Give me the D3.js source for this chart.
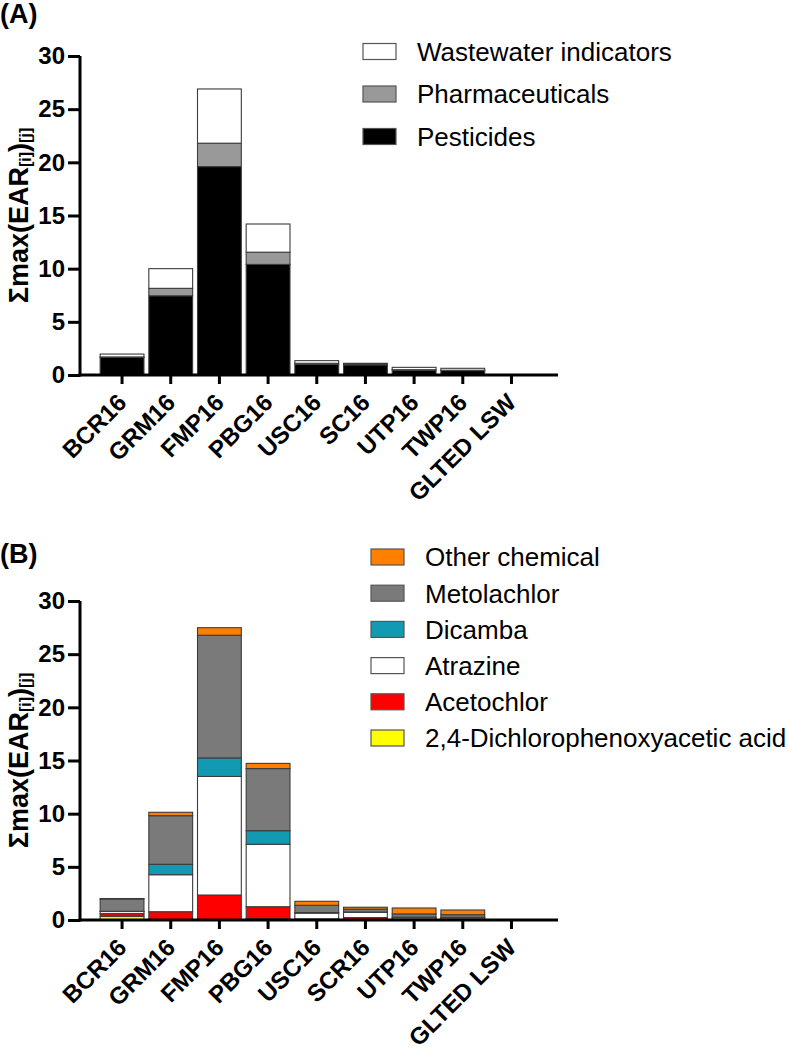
<!DOCTYPE html>
<html>
<head>
<meta charset="utf-8">
<script src="https://cdn.jsdelivr.net/npm/d3@7"></script>
<style>
  html, body { margin: 0; padding: 0; background: #fff; }
  svg { display: block; }
  text { font-family: "Liberation Sans", Arial, Helvetica, sans-serif; fill: #000; }
</style>
</head>
<body>
<svg id="chart" width="790" height="1050"></svg>
<script>
// ---------------- DATA ----------------
const sitesA = ["BCR16", "GRM16", "FMP16", "PBG16", "USC16", "SC16", "UTP16", "TWP16", "GLTED LSW"];
const sitesB = ["BCR16", "GRM16", "FMP16", "PBG16", "USC16", "SCR16", "UTP16", "TWP16", "GLTED LSW"];
const yTicks = [0, 5, 10, 15, 20, 25, 30];

// Panel A (stacked bottom -> top)
const pesticides      = [1.65, 7.45, 19.6, 10.4, 1.0, 0.95, 0.45, 0.42, 0];
const pharmaceuticals = [0.05, 0.70, 2.20, 1.15, 0.10, 0.10, 0.05, 0.03, 0];
const wastewater      = [0.27, 1.85, 5.10, 2.65, 0.25, 0.05, 0.22, 0.18, 0];
const seriesA = ["Pesticides", "Pharmaceuticals", "Wastewater indicators"];
const colorsA = ["#000000", "#999999", "#ffffff"];

// Panel B (stacked bottom -> top)
const d24         = [0.35, 0.00, 0.00, 0.12, 0.05, 0.03, 0.05, 0.05, 0];
const acetochlor  = [0.25, 0.78, 2.35, 1.13, 0.05, 0.20, 0.05, 0.05, 0];
const atrazine    = [0.20, 3.48, 11.15, 5.87, 0.55, 0.50, 0.15, 0.13, 0];
const dicamba     = [0.02, 0.98, 1.74, 1.28, 0.05, 0.02, 0.02, 0.02, 0];
const metolachlor = [1.15, 4.57, 11.54, 5.84, 0.68, 0.27, 0.30, 0.25, 0];
const otherChem   = [0.05, 0.32, 0.71, 0.49, 0.38, 0.18, 0.56, 0.44, 0];
const seriesB = ["2,4-Dichlorophenoxyacetic acid", "Acetochlor", "Atrazine", "Dicamba", "Metolachlor", "Other chemical"];
const colorsB = ["#ffff00", "#ff0000", "#ffffff", "#129ab3", "#7a7a7a", "#ff8000"];

// ---------------- DRAW ----------------
const svg = d3.select("#chart");
const FONT = '"Liberation Sans", Arial, Helvetica, sans-serif';

function drawPanel(opt) {
  const g = svg.append("g");
  const x = d3.scaleBand().domain(opt.sites).range([80, 558]).paddingInner(0.1).paddingOuter(0.46).align(0.45);
  const y = d3.scaleLinear().domain([0, 30]).range([opt.y0, opt.y0 - 319]);

  const rows = opt.sites.map((s, i) => {
    const r = { site: s };
    opt.keys.forEach((k, j) => r[k] = opt.values[j][i]);
    return r;
  });
  const stacked = d3.stack().keys(opt.keys)(rows);
  const color = d3.scaleOrdinal().domain(opt.keys).range(opt.colors);

  g.selectAll("g.layer").data(stacked).join("g")
    .attr("class", "layer")
    .attr("fill", d => color(d.key))
    .selectAll("rect").data(d => d.filter(v => v[1] - v[0] > 0)).join("rect")
    .attr("x", d => x(d.data.site))
    .attr("width", x.bandwidth())
    .attr("y", d => y(d[1]))
    .attr("height", d => y(d[0]) - y(d[1]))
    .attr("stroke", "#3c3c3c")
    .attr("stroke-width", 1.1);

  // Y axis
  const yAxis = d3.axisLeft(y).tickValues(yTicks).tickSize(12).tickPadding(3);
  const ya = g.append("g").attr("transform", "translate(80,0)").call(yAxis);
  ya.select(".domain").attr("stroke-width", 3).attr("d", `M0,${opt.y0 + 1.5}V${opt.y0 - 319}`);
  ya.selectAll(".tick line").attr("stroke-width", 3);
  ya.selectAll(".tick text").attr("font-size", 24).attr("font-weight", "bold").attr("font-family", FONT).attr("fill", "#000");

  // X axis
  const xAxis = d3.axisBottom(x).tickSize(9).tickFormat("");
  const xa = g.append("g").attr("transform", `translate(0,${opt.y0})`).call(xAxis);
  xa.select(".domain").attr("stroke-width", 3).attr("d", "M78.5,0H558");
  xa.selectAll(".tick line").attr("stroke-width", 3);
  g.append("g").selectAll("text").data(opt.sites).join("text")
    .attr("transform", d => `translate(${x(d) + x.bandwidth() / 2 + 6},${opt.y0 + 29}) rotate(-45)`)
    .attr("text-anchor", "end")
    .attr("font-size", 24).attr("font-weight", "bold")
    .text(d => d);

  // Y title
  const t = g.append("text")
    .attr("transform", `translate(28,${opt.y0 - 159.5}) rotate(-90)`)
    .attr("text-anchor", "middle")
    .attr("font-size", 27).attr("font-weight", "bold");
  t.append("tspan").text("Σmax(EAR");
  t.append("tspan").attr("font-size", 16).attr("dy", 3).text("[i]");
  t.append("tspan").attr("dy", -3).text(")");
  t.append("tspan").attr("font-size", 16).attr("dy", 3).text("[j]");

  // Panel letter
  g.append("text").attr("x", 0).attr("y", opt.letterY)
    .attr("font-size", 27).attr("font-weight", "bold").text(opt.letter);

  // Legend
  const leg = g.append("g");
  const items = opt.keys.map((k, i) => ({ k, c: opt.colors[i] })).reverse();
  items.forEach((it, i) => {
    const cy = opt.legY + i * opt.legStep;
    leg.append("rect").attr("x", opt.legX).attr("y", cy - 8).attr("width", 33).attr("height", 16)
      .attr("fill", it.c).attr("stroke", "#555").attr("stroke-width", 1.2);
    leg.append("text").attr("x", opt.legX + 54).attr("y", cy).attr("dy", "0.36em")
      .attr("font-size", 26).text(it.k);
  });
}

drawPanel({
  y0: 375, sites: sitesA, keys: seriesA, colors: colorsA,
  values: [pesticides, pharmaceuticals, wastewater],
  letter: "(A)", letterY: 23, legX: 363, legY: 51.5, legStep: 42.5
});

drawPanel({
  y0: 920, sites: sitesB, keys: seriesB, colors: colorsB,
  values: [d24, acetochlor, atrazine, dicamba, metolachlor, otherChem],
  letter: "(B)", letterY: 563, legX: 371, legY: 557, legStep: 36.2
});
</script>
</body>
</html>
